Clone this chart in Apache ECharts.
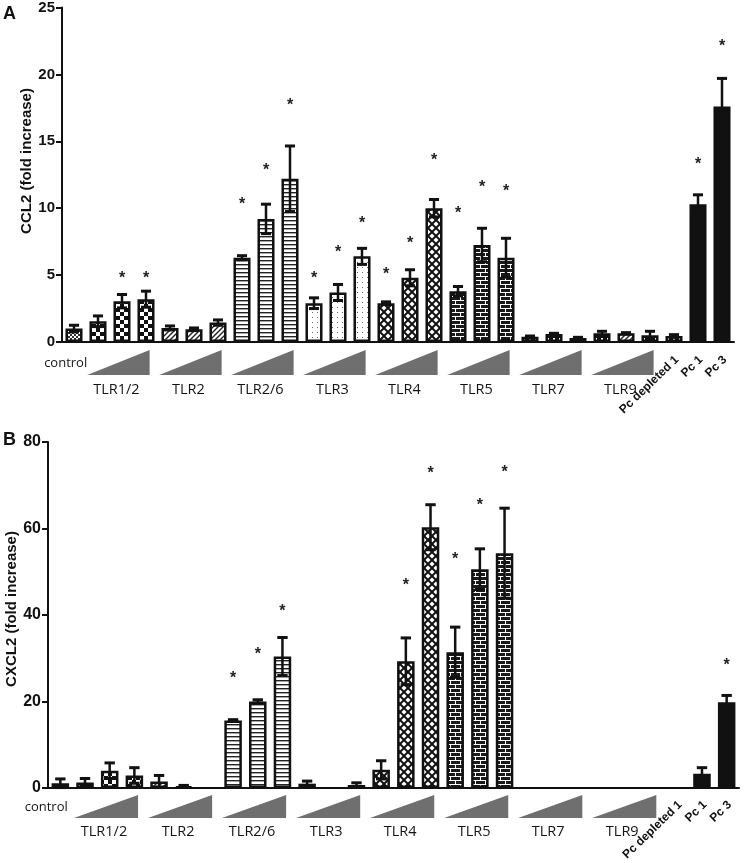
<!DOCTYPE html>
<html><head><meta charset="utf-8">
<script src="https://cdn.jsdelivr.net/npm/echarts@6/dist/echarts.min.js"></script>
<style>html,body{margin:0;padding:0;background:#fff;}#c{width:750px;height:863px;}</style>
</head><body><div id="c"></div>
<script>
// ---------------- data ----------------
const categories = ['control',
  'TLR1/2 low','TLR1/2 mid','TLR1/2 high',
  'TLR2 low','TLR2 mid','TLR2 high',
  'TLR2/6 low','TLR2/6 mid','TLR2/6 high',
  'TLR3 low','TLR3 mid','TLR3 high',
  'TLR4 low','TLR4 mid','TLR4 high',
  'TLR5 low','TLR5 mid','TLR5 high',
  'TLR7 low','TLR7 mid','TLR7 high',
  'TLR9 low','TLR9 mid','TLR9 high',
  'Pc depleted 1','Pc 1','Pc 3'];
const groupNames = ['TLR1/2','TLR2','TLR2/6','TLR3','TLR4','TLR5','TLR7','TLR9'];
const controlLabel = 'control';
const rotatedLabels = ['Pc depleted 1','Pc 1','Pc 3'];

const ccl2    = [1.0,1.55,3.05,3.2, 1.05,0.95,1.45, 6.3,9.2,12.2, 2.9,3.7,6.4, 2.9,4.8,10.0, 3.8,7.25,6.3, 0.4,0.6,0.3, 0.65,0.65,0.5, 0.45, 10.3,17.6];
const ccl2Err = [0.25,0.4,0.5,0.6, 0.15,0.1,0.2, 0.15,1.1,2.45, 0.4,0.6,0.6, 0.1,0.6,0.65, 0.35,1.25,1.45, 0.05,0.05,0.05, 0.15,0.05,0.3, 0.1, 0.7,2.1];
const ccl2StarIdx = [2,3,7,8,9,10,11,12,13,14,15,16,17,18,26,27];
const ccl2StarY   = [5.0,5.0,10.5,13.0,17.9,5.0,6.9,9.1,5.25,7.6,13.8,9.85,11.8,11.5,13.45,22.3];

const cxcl2    = [1.1,1.3,4.0,2.9, 1.5,0.4,0, 15.6,20.0,30.4, 1.0,0,0.7, 4.2,29.3,60.3, 31.4,50.6,54.3, 0,0,0, 0,0,0, 0, 3.3,19.8];
const cxcl2Err = [1.0,0.9,1.8,1.8, 1.4,0.2,0, 0.2,0.4,4.4, 0.6,0,0.5, 2.1,5.4,5.2, 5.8,4.7,10.4, 0,0,0, 0,0,0, 0, 1.4,1.6];
const cxcl2StarIdx = [7,8,9,14,15,16,17,18,27];
const cxcl2StarY   = [26.0,31.5,41.5,47.4,73.3,53.4,66.1,73.6,28.9];

const ccl2Axis = {min:0, max:25, interval:5, name:'CCL2 (fold increase)', panel:'A'};
const cxcl2Axis = {min:0, max:80, interval:20, name:'CXCL2 (fold increase)', panel:'B'};

// ---------------- patterns ----------------
function pat(w,h,draw){const c=document.createElement('canvas');c.width=w;c.height=h;const g=c.getContext('2d');draw(g,w,h);return {image:c,repeat:'repeat'};}
const P = {
  fine: pat(4,4,(g)=>{g.fillStyle='#fff';g.fillRect(0,0,4,4);g.fillStyle='#333';g.fillRect(0,0,2,2);g.fillRect(2,2,2,2);}),
  checker: pat(8,8,(g)=>{g.fillStyle='#fff';g.fillRect(0,0,8,8);g.fillStyle='#111';g.fillRect(0,0,4,4);g.fillRect(4,4,4,4);}),
  diag: pat(5,5,(g)=>{g.fillStyle='#fff';g.fillRect(0,0,5,5);g.strokeStyle='#222';g.lineWidth=1.4;g.beginPath();g.moveTo(-1,6);g.lineTo(6,-1);g.moveTo(-1,1);g.lineTo(1,-1);g.moveTo(4,6);g.lineTo(6,4);g.stroke();}),
  hlines: pat(4,4,(g)=>{g.fillStyle='#fff';g.fillRect(0,0,4,4);g.fillStyle='#222';g.fillRect(0,0,4,1.4);}),
  dots: pat(5,5,(g)=>{g.fillStyle='#fff';g.fillRect(0,0,5,5);g.fillStyle='#666';g.fillRect(2,2,1,1);}),
  cross: pat(8,8,(g)=>{g.fillStyle='#fff';g.fillRect(0,0,8,8);g.strokeStyle='#111';g.lineWidth=2;g.beginPath();g.moveTo(-1,-1);g.lineTo(9,9);g.moveTo(9,-1);g.lineTo(-1,9);g.stroke();}),
  brick: pat(10,8,(g)=>{g.fillStyle='#1a1a1a';g.fillRect(0,0,10,8);g.fillStyle='#fff';g.fillRect(0,0,10,1);g.fillRect(0,4,10,1);g.fillRect(0,1,1,3);g.fillRect(5,5,1,3);}),
  darkDots: pat(6,6,(g)=>{g.fillStyle='#111';g.fillRect(0,0,6,6);g.fillStyle='#fff';g.fillRect(1,2,2,2);}),
  solid: '#111'
};
const patternOrder = ['fine','checker','checker','checker','diag','diag','diag','hlines','hlines','hlines','dots','dots','dots','cross','cross','cross','brick','brick','brick','darkDots','darkDots','darkDots','darkDots','diag','darkDots','darkDots','solid','solid'];

// ---------------- builders ----------------
function errRender(params, api){
  const i=api.value(0), v=api.value(1), e=api.value(2);
  if(!(e>0)) return null;
  const top=api.coord([i,v+e]); const lowV=v-e; const bot=api.coord([i,Math.max(0,lowV)]);
  const hw=api.size([1,0])[0]*0.21;
  const ch=[{type:'line',shape:{x1:top[0],y1:top[1],x2:bot[0],y2:bot[1]},style:{stroke:'#111',lineWidth:2.5}},
            {type:'line',shape:{x1:top[0]-hw,y1:top[1],x2:top[0]+hw,y2:top[1]},style:{stroke:'#111',lineWidth:3}}];
  if(lowV>0) ch.push({type:'line',shape:{x1:bot[0]-hw,y1:bot[1],x2:bot[0]+hw,y2:bot[1]},style:{stroke:'#111',lineWidth:3}});
  return {type:'group',children:ch};
}
function starRender(params, api){
  const p=api.coord([api.value(0),api.value(1)]);
  return {type:'text',x:p[0],y:p[1]+3,style:{text:'*',font:'bold 16px "Liberation Sans", Arial',fill:'#222',align:'center',verticalAlign:'middle'}};
}
function wedgeRenderFactory(cfg){
  return function(params, api){
    const a=api.coord([api.value(0),0]), b=api.coord([api.value(1),0]);
    const bw=api.size([1,0])[0];
    const l=a[0]-0.45*bw, r=b[0]+0.15*bw;
    return {type:'group',children:[
      {type:'polygon',shape:{points:[[l,a[1]+cfg.wb],[r,a[1]+cfg.wt],[r,a[1]+cfg.wb]]},style:{fill:'#6f6f6f'}},
      {type:'text',x:(l+r)/2-2,y:a[1]+cfg.ly,style:{text:groupNames[params.dataIndex],font:'14.5px "Open Sans"',fill:'#151515',align:'center',verticalAlign:'middle'}}
    ]};
  };
}
function labelRenderFactory(cfg){
  return function(params, api){
    const i=api.value(0); const p=api.coord([i,0]); const bw=api.size([1,0])[0];
    if(params.dataIndex===0){
      return {type:'text',x:p[0]+cfg.cx*bw,y:p[1]+cfg.cy,style:{text:controlLabel,font:'13px "Open Sans"',fill:'#151515',align:'right',verticalAlign:'middle'}};
    }
    return {type:'group',x:p[0]+3,y:p[1]+cfg.ry,rotation:44*Math.PI/180,children:[
      {type:'text',x:0,y:0,style:{text:rotatedLabels[params.dataIndex-1],font:'bold 12px "Liberation Sans", Arial',fill:'#111',align:'right',verticalAlign:'middle'}}]};
  };
}
const labelIdx = [0, categories.length-3, categories.length-2, categories.length-1];

function panelSeries(k, vals, errs, sIdx, sY, cfg){
  const bars = vals.map((v,i)=>({value:v,itemStyle:{color:P[patternOrder[i]],borderWidth:v>0?2.5:0}}));
  return [
    {type:'bar',xAxisIndex:k,yAxisIndex:k,data:bars,barWidth:'71%',itemStyle:{borderColor:'#111',borderWidth:2.5},silent:true,z:2},
    {type:'custom',xAxisIndex:k,yAxisIndex:k,data:vals.map((v,i)=>[i,v,errs[i]]),encode:{x:0,y:1},renderItem:errRender,silent:true,z:3},
    {type:'custom',xAxisIndex:k,yAxisIndex:k,data:sIdx.map((i,j)=>[i,sY[j]]),encode:{x:0,y:1},renderItem:starRender,silent:true,z:4},
    {type:'custom',xAxisIndex:k,yAxisIndex:k,data:groupNames.map((n,g)=>[1+3*g,3+3*g]),encode:{x:[0,1]},renderItem:wedgeRenderFactory(cfg),clip:false,silent:true,z:4},
    {type:'custom',xAxisIndex:k,yAxisIndex:k,data:labelIdx.map(i=>[i]),encode:{x:0},renderItem:labelRenderFactory(cfg),clip:false,silent:true,z:4}
  ];
}
function xAx(k){return {type:'category',gridIndex:k,data:categories,boundaryGap:true,
  axisLine:{lineStyle:{color:'#111',width:2}},axisTick:{alignWithLabel:true,length:6,lineStyle:{color:'#111',width:2}},axisLabel:{show:false}};}
function yAx(k,ax,fs){return {type:'value',gridIndex:k,min:ax.min,max:ax.max,interval:ax.interval,
  axisLine:{show:true,lineStyle:{color:'#111',width:2}},axisTick:{show:true,length:6,lineStyle:{color:'#111',width:2}},
  splitLine:{show:false},axisLabel:{color:'#111',fontWeight:'bold',fontSize:fs,fontFamily:'"Liberation Sans", Arial',margin:7}};}

const cfgA={wt:8,wb:33,ly:48,cx:0.55,cy:21,ry:16};
const cfgB={wt:7,wb:30,ly:44,cx:0.3,cy:19,ry:15};

const chart=echarts.init(document.getElementById('c'),null,{renderer:'canvas'});
chart.setOption({
  animation:false,
  grid:[{left:62,top:7,width:672,height:335},{left:48,top:442,width:691,height:346}],
  xAxis:[xAx(0),xAx(1)],
  yAxis:[yAx(0,ccl2Axis,15),yAx(1,cxcl2Axis,16)],
  graphic:[
    {type:'text',x:3,y:5,style:{text:ccl2Axis.panel,font:'bold 18px "Liberation Sans", Arial',fill:'#111'}},
    {type:'text',x:3,y:431,style:{text:cxcl2Axis.panel,font:'bold 18px "Liberation Sans", Arial',fill:'#111'}},
    {type:'text',x:27,y:161,rotation:Math.PI/2,style:{text:ccl2Axis.name,font:'bold 15px "Liberation Sans", Arial',fill:'#111',align:'center',verticalAlign:'middle'}},
    {type:'text',x:12,y:609,rotation:Math.PI/2,style:{text:cxcl2Axis.name,font:'bold 15px "Liberation Sans", Arial',fill:'#111',align:'center',verticalAlign:'middle'}}
  ],
  series:[].concat(panelSeries(0,ccl2,ccl2Err,ccl2StarIdx,ccl2StarY,cfgA), panelSeries(1,cxcl2,cxcl2Err,cxcl2StarIdx,cxcl2StarY,cfgB))
});
</script></body></html>
